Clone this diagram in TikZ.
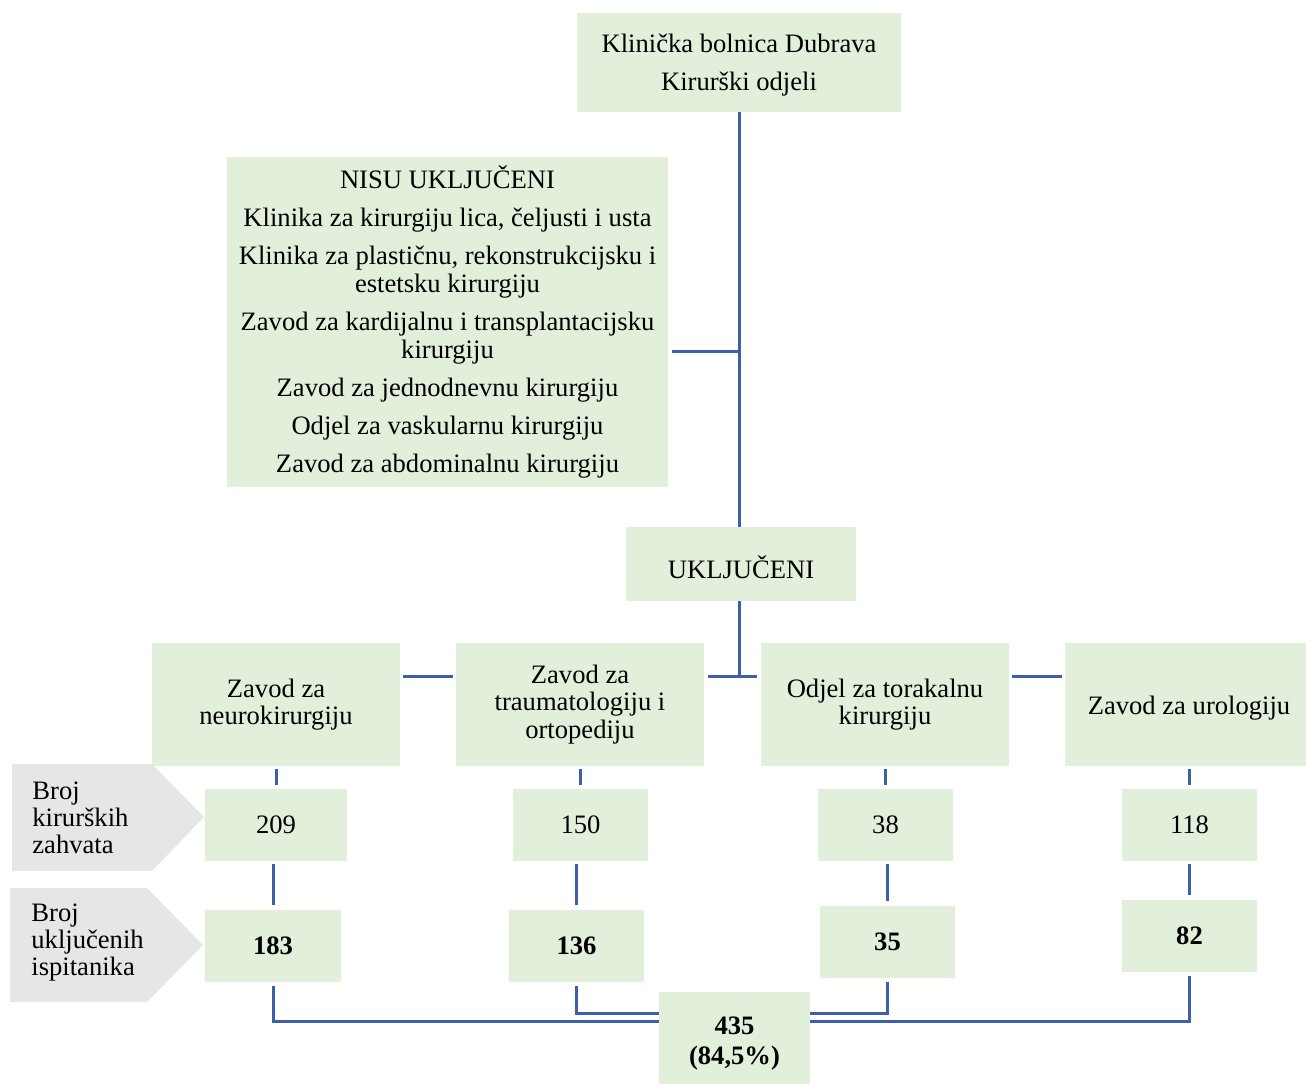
\documentclass[tikz,border=0pt]{standalone}
\usepackage{fontspec}
\setmainfont{Liberation Serif}
\definecolor{boxgreen}{HTML}{E2EFDA}
\definecolor{labelgrey}{HTML}{E6E6E6}
\definecolor{linkblue}{RGB}{61,94,170}
\begin{document}
\begin{tikzpicture}[x=0.5pt, y=-0.5pt,
    box/.style={fill=boxgreen, inner sep=0pt, align=center,
        font=\fontsize{13.3}{13.8}\selectfont},
    unitbox/.style={box, minimum width=124pt, minimum height=61.5pt},
    countbox/.style={box, minimum width=67.5pt, minimum height=36pt},
    label/.style={anchor=west, inner sep=0pt, align=left,
        font=\fontsize{13.3}{13.5}\selectfont},
    link/.style={draw=linkblue, line width=1.5pt}]
    \useasboundingbox (0,0) rectangle (1306,1084);
    % gornji dio
    \node[box, minimum width=162pt, minimum height=49.5pt] (bolnica) at (739,62.5)
        {\rule{0pt}{12pt}Klinička bolnica Dubrava\\[5.2pt]Kirurški odjeli};
    \node[box, minimum width=220.5pt, minimum height=165pt] (nisu) at (447.5,322)
        {NISU UKLJUČENI\\[5.2pt]
         Klinika za kirurgiju lica, čeljusti i usta\\[5.2pt]
         Klinika za plastičnu, rekonstrukcijsku i\\estetsku kirurgiju\\[5.2pt]
         Zavod za kardijalnu i transplantacijsku\\kirurgiju\\[5.2pt]
         Zavod za jednodnevnu kirurgiju\\[5.2pt]
         Odjel za vaskularnu kirurgiju\\[5.2pt]
         Zavod za abdominalnu kirurgiju};
    \node[box, minimum width=115pt, minimum height=37pt] (ukljuceni) at (741,564) {\rule{0pt}{15pt}UKLJUČENI};
    % odjeli
    \node[unitbox] (neuro)  at (276,704.5) {Zavod za\\neurokirurgiju};
    \node[unitbox] (trauma) at (580,704.5) {Zavod za\\traumatologiju i\\ortopediju};
    \node[unitbox] (torak)  at (885,704.5) {Odjel za torakalnu\\kirurgiju};
    \node[unitbox] (uro)    at (1189,704.5) {\rule{0pt}{13pt}Zavod za urologiju};
    % broj zahvata
    \node[countbox, minimum width=71pt] (zahvatNeuro) at (276,825) {209};
    \node[countbox] (zahvatTrauma) at (580.5,825) {150};
    \node[countbox] (zahvatTorak)  at (885.5,825) {38};
    \node[countbox] (zahvatUro)    at (1189.5,825) {118};
    % broj ispitanika
    \node[countbox, minimum width=68pt, font=\fontsize{13.3}{13.8}\selectfont\bfseries] (ispNeuro)  at (273,945.5) {183};
    \node[countbox, font=\fontsize{13.3}{13.8}\selectfont\bfseries] (ispTrauma) at (576.5,945.5) {136};
    \node[countbox, font=\fontsize{13.3}{13.8}\selectfont\bfseries] (ispTorak)  at (887.5,941.5) {35};
    \node[countbox, font=\fontsize{13.3}{13.8}\selectfont\bfseries] (ispUro)    at (1189.5,935.5) {82};
    \node[box, minimum width=75.5pt, minimum height=46pt, font=\fontsize{13.3}{15}\selectfont\bfseries]
        (ukupno) at (734.5,1038) {\rule{0pt}{14pt}435\\(84,5\%)};
    % sive oznake
    \fill[labelgrey] (12,764) -- (152,764) -- (204,817) -- (152,871) -- (12,871) -- cycle;
    \fill[labelgrey] (10,888) -- (147,888) -- (203,945) -- (147,1002) -- (10,1002) -- cycle;
    \node[label] (oznakaZahvati) at (32,818) {Broj\\kirurških\\zahvata};
    \node[label] (oznakaIspitanici) at (31,943) {Broj\\uključenih\\ispitanika};
    % veze
    \draw[link] (bolnica.south) -- (bolnica.south |- ukljuceni.north);
    \draw[link] ([shift={(2pt,-14.5pt)}]nisu.east) -- ([yshift=-14.5pt]nisu.east -| bolnica.south);
    \draw[link] (ukljuceni.south -| bolnica.south) -- ([yshift=14pt]trauma.east -| bolnica.south);
    \draw[link] ([shift={(1.5pt,14pt)}]neuro.east) -- ([shift={(-1.5pt,14pt)}]trauma.west);
    \draw[link] ([shift={(2pt,14pt)}]trauma.east) -- ([shift={(-2pt,14pt)}]torak.west);
    \draw[link] ([shift={(1.5pt,14pt)}]torak.east) -- ([shift={(-1.5pt,14pt)}]uro.west);
    \foreach \odjel/\zahvat in {neuro/zahvatNeuro, trauma/zahvatTrauma, torak/zahvatTorak, uro/zahvatUro}
        \draw[link] ([yshift=-1.5pt]\odjel.south) -- ([yshift=2pt]\odjel.south |- \zahvat.north);
    \foreach \zahvat/\isp in {zahvatNeuro/ispNeuro, zahvatTrauma/ispTrauma, zahvatTorak/ispTorak, zahvatUro/ispUro}
        \draw[link] ([yshift=-1.5pt]\zahvat.south -| \isp.north) -- ([yshift=2pt]\isp.north);
    \draw[link] ([yshift=-2pt]ispNeuro.south) |- ([yshift=8.5pt]ukupno.west);
    \draw[link] ([yshift=-2pt]ispTrauma.south) |- ([yshift=12.5pt]ukupno.west);
    \draw[link] ([yshift=-2pt]ispTorak.south) |- ([yshift=12.5pt]ukupno.east);
    \draw[link] ([yshift=-2pt]ispUro.south) |- ([yshift=8.5pt]ukupno.east);
\end{tikzpicture}
\end{document}
